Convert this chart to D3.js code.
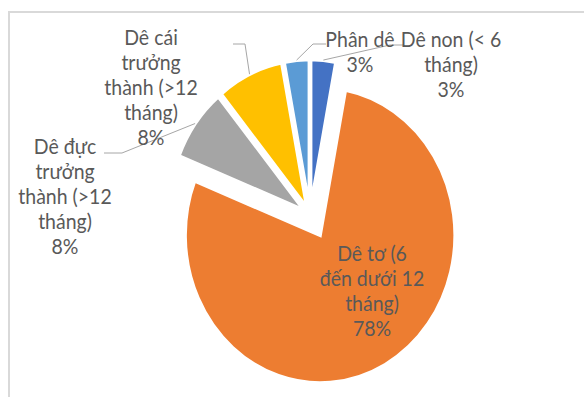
<!DOCTYPE html>
<html><head><meta charset="utf-8">
<script src="https://cdn.jsdelivr.net/npm/d3@7"></script>
<style>body{margin:0;background:#fff;overflow:hidden}</style>
</head><body><svg id="c" width="584" height="397"></svg>
<script>
// ---- data ----
const categories = ["Dê non (< 6 tháng)", "Dê tơ (6 đến dưới 12 tháng)", "Dê đực trưởng thành (>12 tháng)", "Dê cái trưởng thành (>12 tháng)", "Phân dê"];
const values = [3, 78, 8, 8, 3];
const labelLines = [["Dê non (< 6","tháng)"],["Dê tơ (6","đến dưới 12","tháng)"],["Dê đực","trưởng","thành (>12","tháng)"],["Dê cái","trưởng","thành (>12","tháng)"],["Phân dê"]];
const colors = ["#4472C4","#ED7D31","#A5A5A5","#FFC000","#5B9BD5"];

// ---- layout ----
const cx = 310, cy = 215, R = 135, SY = 1.096;
const explode = [7, 21, 7, 7, 7];
const labelPos = [
  {x: 451, y: 40, anchor: [403, 45], elbow: [390, 45]},
  {x: 372, y: 254},
  {x: 65, y: 147, anchor: [104, 153], elbow: [122, 153]},
  {x: 151, y: 38, anchor: [233, 44], elbow: [245, 44]},
  {x: 360, y: 40, anchor: [326, 44], elbow: [313, 44]}
];
const LH = 25, FS = 19.5;

const svg = d3.select("#c");
svg.append("rect").attr("x", 9).attr("y", 12).attr("width", 600).attr("height", 420)
  .attr("fill", "#fff").attr("stroke", "#d9d9d9").attr("stroke-width", 2);

const total = d3.sum(values);
const pct = d3.format(".0%");
const arcs = d3.pie().sort(null).value(d => d)(values);
const arcGen = d3.arc().innerRadius(0).outerRadius(R);

const pieG = svg.append("g").attr("transform", `translate(${cx},${cy}) scale(1,${SY})`);
pieG.selectAll("path").data(arcs).join("path")
  .attr("transform", (d, i) => {
    const m = (d.startAngle + d.endAngle) / 2;
    return `translate(${explode[i] * Math.sin(m)},${-explode[i] * Math.cos(m)})`;
  })
  .attr("d", arcGen)
  .attr("fill", (d, i) => colors[i])
  .attr("stroke", "#fff").attr("stroke-width", 3.5).attr("stroke-linejoin", "miter");

// leader lines
arcs.forEach((d, i) => {
  const lp = labelPos[i];
  if (!lp.anchor) return;
  const m = (d.startAngle + d.endAngle) / 2;
  const rr = R + explode[i];
  const ex = cx + rr * Math.sin(m), ey = cy - rr * Math.cos(m) * SY;
  svg.append("polyline")
    .attr("points", [lp.anchor, lp.elbow, [ex, ey]].map(p => p.join(",")).join(" "))
    .attr("fill", "none").attr("stroke", "#a6a6a6").attr("stroke-width", 1);
});

// labels
arcs.forEach((d, i) => {
  const lp = labelPos[i];
  const lines = labelLines[i].concat([pct(values[i] / total)]);
  lines.forEach((t, k) => {
    svg.append("text")
      .attr("transform", `translate(${lp.x},${lp.y + k * LH}) scale(1,${SY})`)
      .attr("dy", "0.35em")
      .attr("text-anchor", "middle")
      .attr("font-family", "Lato, 'Liberation Sans', sans-serif")
      .attr("font-size", FS)
      .attr("fill", "#595959")
      .text(t);
  });
});
</script></body></html>
